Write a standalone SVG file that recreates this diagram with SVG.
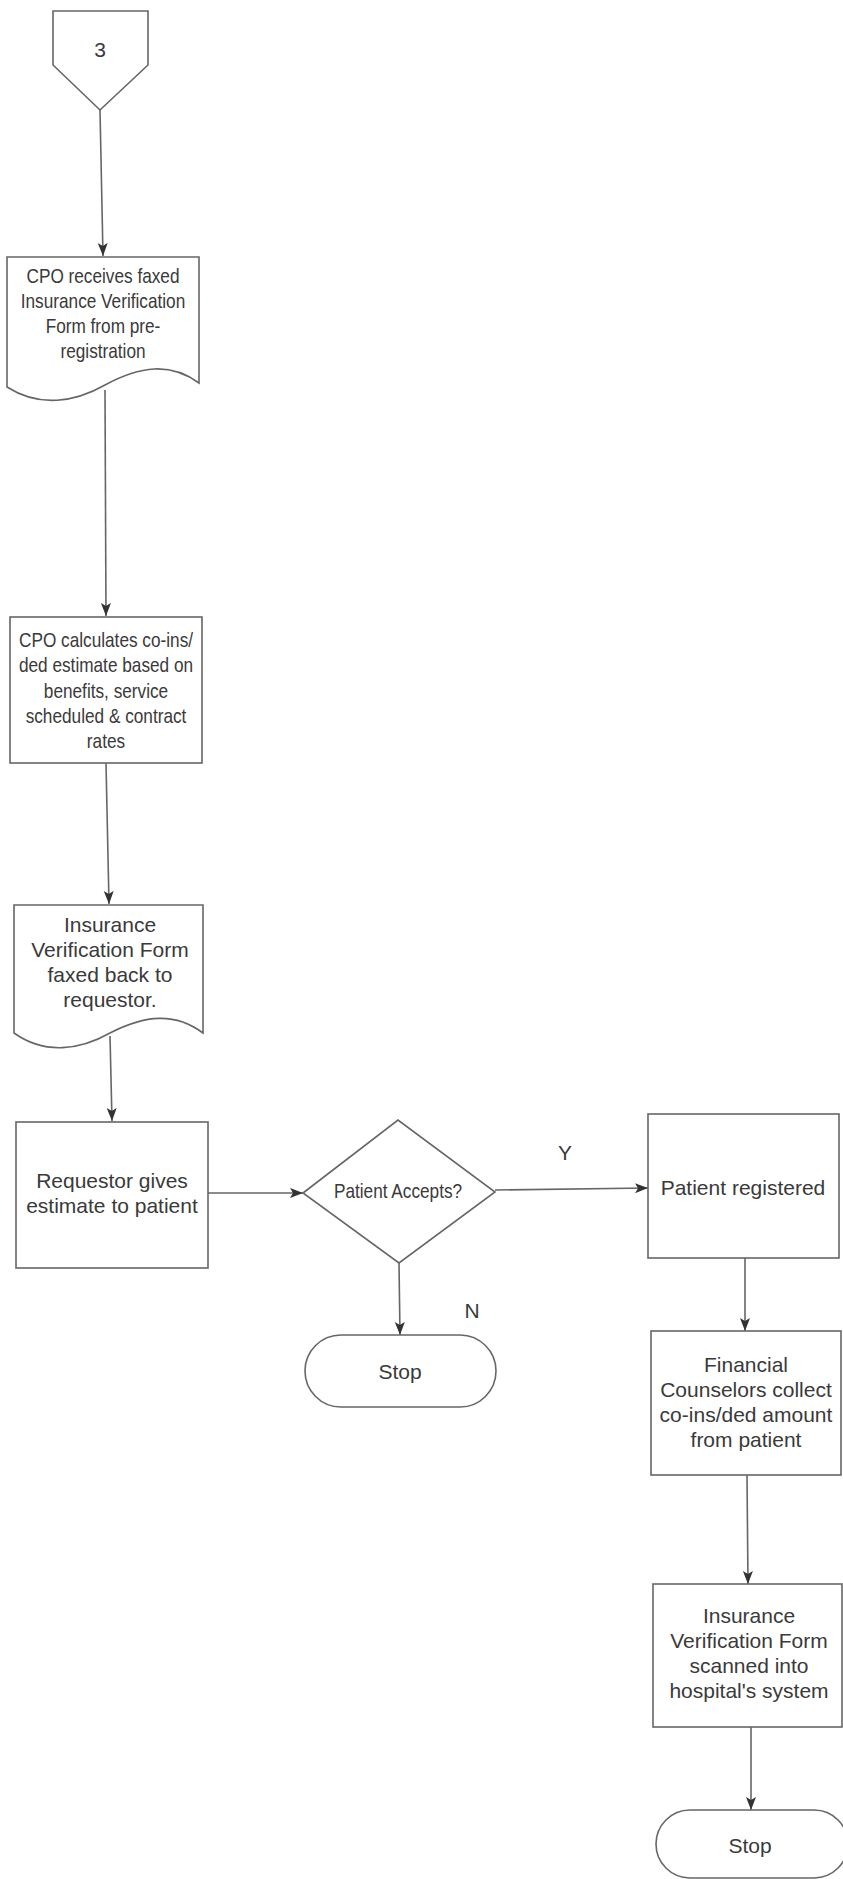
<svg xmlns="http://www.w3.org/2000/svg" width="843" height="1879" viewBox="0 0 843 1879">
<style>
.s{fill:#fff;stroke:#666;stroke-width:1.6}
.t{font-family:"Liberation Sans",Arial,sans-serif;font-size:21px;fill:#3a3a3a;text-anchor:middle}
.c{stroke:#666;stroke-width:1.6;fill:none}
</style>
<defs>
<marker id="ah" markerUnits="userSpaceOnUse" markerWidth="14" markerHeight="12" refX="13" refY="5" orient="auto">
<path d="M0,0 L13,5 L0,10 L3,5 Z" fill="#333"/>
</marker>
</defs>
<rect width="843" height="1879" fill="#fff"/>
<g id="connectors">
<line class="c" x1="100" y1="110" x2="103" y2="256" marker-end="url(#ah)"/>
<line class="c" x1="105" y1="390" x2="106" y2="616" marker-end="url(#ah)"/>
<line class="c" x1="106" y1="763" x2="109" y2="904" marker-end="url(#ah)"/>
<line class="c" x1="110" y1="1036" x2="112" y2="1121" marker-end="url(#ah)"/>
<line class="c" x1="208" y1="1193" x2="303" y2="1193" marker-end="url(#ah)"/>
<line class="c" x1="495" y1="1190" x2="648" y2="1188" marker-end="url(#ah)"/>
<line class="c" x1="399" y1="1263" x2="400" y2="1335" marker-end="url(#ah)"/>
<line class="c" x1="745" y1="1258" x2="745" y2="1331" marker-end="url(#ah)"/>
<line class="c" x1="747" y1="1475" x2="748" y2="1584" marker-end="url(#ah)"/>
<line class="c" x1="751" y1="1727" x2="751" y2="1810" marker-end="url(#ah)"/>
<text class="t" x="565" y="1160">Y</text>
<text class="t" x="472" y="1318">N</text>
</g>
<g id="n-offpage">
<path class="s" d="M53,11 H148 V65 L100,110 L53,65 Z"/>
<text class="t" x="100" y="57">3</text>
</g>
<g id="n-receive">
<path class="s" d="M7,257 H199 V383 C170,362 140,366 105,385 C75,402 40,408 7,387 Z"/>
<text class="t" transform="translate(103,0) scale(0.82,1)"><tspan x="0" y="283">CPO receives faxed</tspan><tspan x="0" y="308">Insurance Verification</tspan><tspan x="0" y="333">Form from pre-</tspan><tspan x="0" y="358">registration</tspan></text>
</g>
<g id="n-calc">
<rect class="s" x="10" y="617" width="192" height="146"/>
<text class="t" transform="translate(106,0) scale(0.82,1)"><tspan x="0" y="647">CPO calculates co-ins/</tspan><tspan x="0" y="672">ded estimate based on</tspan><tspan x="0" y="698">benefits, service</tspan><tspan x="0" y="723">scheduled &amp; contract</tspan><tspan x="0" y="748">rates</tspan></text>
</g>
<g id="n-faxback">
<path class="s" d="M14,905 H203 V1033 C175,1012 145,1015 110,1033 C80,1050 45,1055 14,1033 Z"/>
<text class="t"><tspan x="110" y="932">Insurance</tspan><tspan x="110" y="957">Verification Form</tspan><tspan x="110" y="982">faxed back to</tspan><tspan x="110" y="1007">requestor.</tspan></text>
</g>
<g id="n-requestor">
<rect class="s" x="16" y="1122" width="192" height="146"/>
<text class="t"><tspan x="112" y="1188">Requestor gives</tspan><tspan x="112" y="1213">estimate to patient</tspan></text>
</g>
<g id="n-decision">
<path class="s" d="M303,1193 L398,1120 L495,1192 L399,1263 Z"/>
<text class="t" transform="translate(398,0) scale(0.82,1)" x="0" y="1198">Patient Accepts?</text>
</g>
<g id="n-stop1">
<rect class="s" x="305" y="1335" width="191" height="72" rx="36"/>
<text class="t" x="400" y="1379">Stop</text>
</g>
<g id="n-registered">
<rect class="s" x="648" y="1114" width="191" height="144"/>
<text class="t" x="743" y="1195">Patient registered</text>
</g>
<g id="n-collect">
<rect class="s" x="651" y="1331" width="190" height="144"/>
<text class="t"><tspan x="746" y="1372">Financial</tspan><tspan x="746" y="1397">Counselors collect</tspan><tspan x="746" y="1422">co-ins/ded amount</tspan><tspan x="746" y="1447">from patient</tspan></text>
</g>
<g id="n-scanned">
<rect class="s" x="653" y="1584" width="189" height="143"/>
<text class="t"><tspan x="749" y="1623">Insurance</tspan><tspan x="749" y="1648">Verification Form</tspan><tspan x="749" y="1673">scanned into</tspan><tspan x="749" y="1698">hospital's system</tspan></text>
</g>
<g id="n-stop2">
<rect class="s" x="656" y="1810" width="192" height="68" rx="34"/>
<text class="t" x="750" y="1853">Stop</text>
</g>
</svg>
